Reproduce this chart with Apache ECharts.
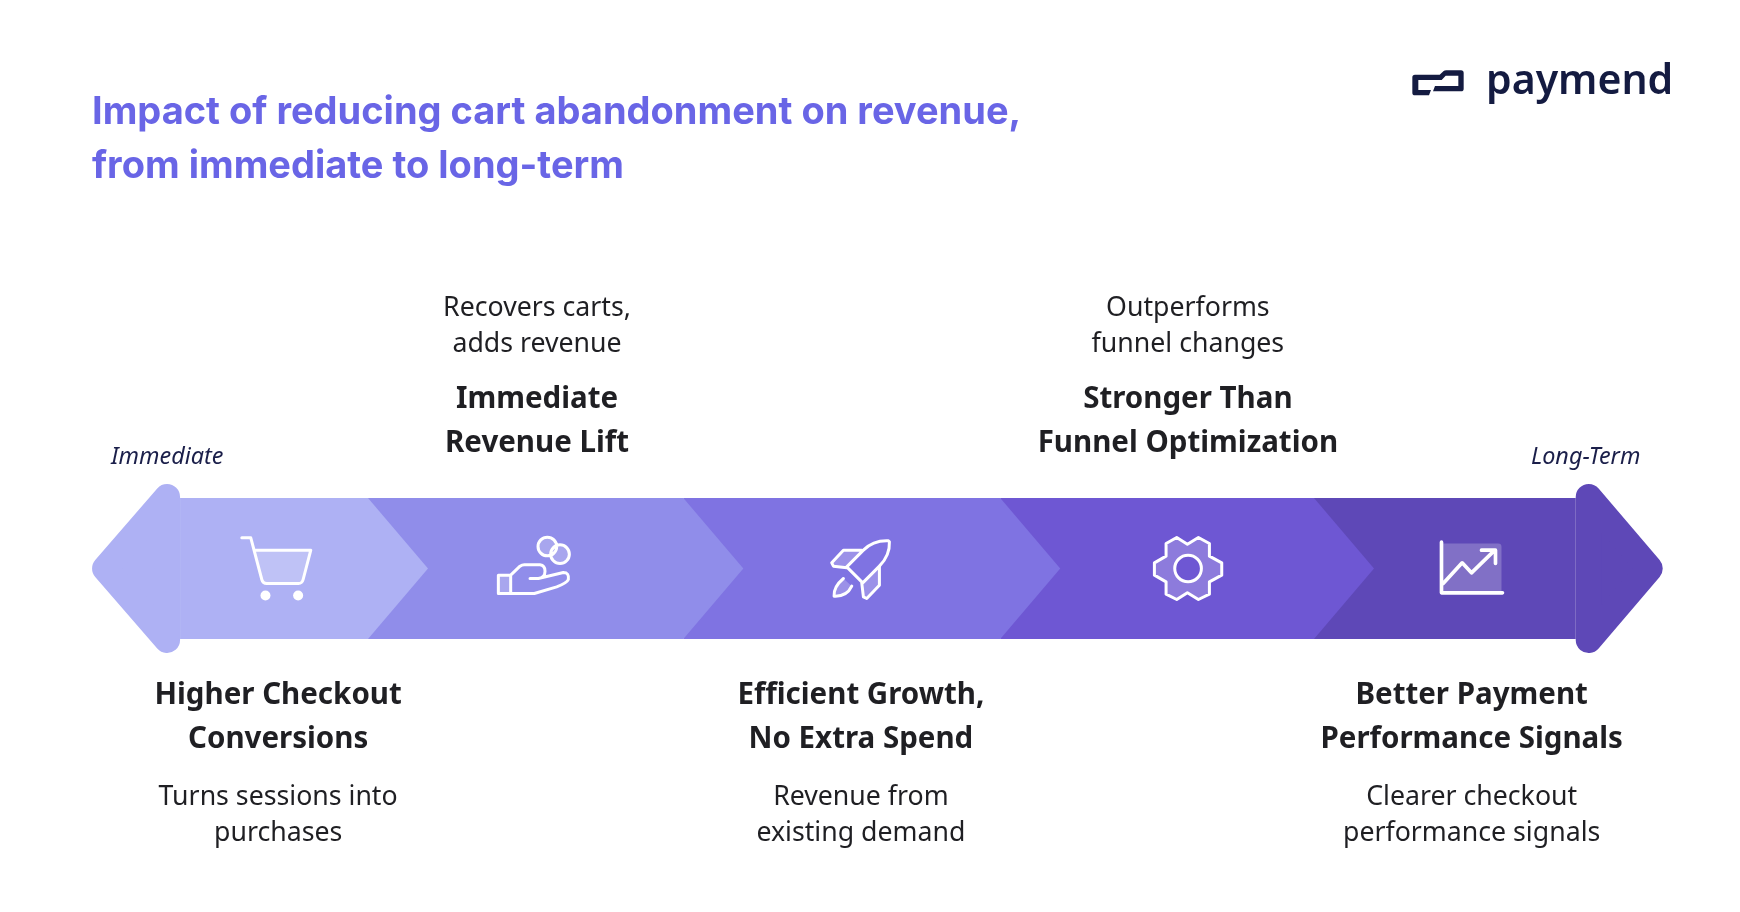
<!DOCTYPE html>
<html>
<head>
<meta charset="utf-8">
<title>Impact of reducing cart abandonment on revenue</title>
<script src="https://cdn.jsdelivr.net/npm/echarts@6/dist/echarts.min.js"></script>
<style>
    html, body { margin: 0; padding: 0; background: #fff; }
    #main { width: 1740px; height: 912px; }
</style>
</head>
<body>
<div id="main"></div>
<script>
var chartTitle = 'Impact of reducing cart abandonment on revenue,\nfrom immediate to long-term';
var brandName = 'paymend';
var startLabel = 'Immediate';
var endLabel = 'Long-Term';

// stages along the arrow, in stage units
var arrowStart = 0.404;
var stageEnds = [1, 2, 3.005, 4, 4.83];
var iconCentres = [0.715, 1.536, 2.57, 3.607, 4.51];
var textCentres = [0.715, 1.536, 2.563, 3.6, 4.5];
var stageNames = [
    ['Higher Checkout', 'Conversions'],
    ['Immediate', 'Revenue Lift'],
    ['Efficient Growth,', 'No Extra Spend'],
    ['Stronger Than', 'Funnel Optimization'],
    ['Better Payment', 'Performance Signals']
];
var stageNotes = [
    ['Turns sessions into', 'purchases'],
    ['Recovers carts,', 'adds revenue'],
    ['Revenue from', 'existing demand'],
    ['Outperforms', 'funnel changes'],
    ['Clearer checkout', 'performance signals']
];
var stageColors = ['#aeb1f4', '#908dea', '#7f73e2', '#6e57d3', '#5e48b7'];

var bodyFont = 'Noto Sans';
var textColor = '#1f1f23';

// 图标，以图标中心为原点，3倍坐标
var iconShapes = [
    {
        fill: 'M-69,-55 L98,-55 L75,33 Q72,45 61,45 L-34,45 Q-46,45 -49,33 Z',
        line: 'M-109,-92 L-82,-92 L-49,33 Q-46,45 -34,45 L61,45 Q72,45 75,33 L98,-55 L-69,-55',
        dots: [[-38, 81, 15], [60, 81, 15]]
    },
    {
        fill: 'M-116,20 L-79,20 L-79,75 L-116,75 Z M3,-66 A28,28 0 1 1 59,-66 A28,28 0 1 1 3,-66 Z M41,-43 A28,28 0 1 1 97,-43 A28,28 0 1 1 41,-43 Z',
        line: 'M3,-66 A28,28 0 1 1 59,-66 A28,28 0 1 1 3,-66 Z M41,-43 A28,28 0 1 1 97,-43 A28,28 0 1 1 41,-43 Z M-116,20 L-79,20 L-79,75 L-116,75 Z M-79,20 L-51,-7 Q-45,-11 -38,-11 L9,-11 Q24,-9 24,8 Q24,27 4,30 L-21,30 L4,30 L79,12 Q97,12 94,33 Q90,43 59,55 L-8,75 L-79,75',
        dots: []
    },
    {
        fill: 'M-4,-55 L-59,-55 L-94,-17 L-89,-7 L-49,-2 Z M49,-5 L49,50 L11,90 L1,85 L-4,43 Z M-59,30 Q-89,55 -87,83 Q-49,85 -34,53 Z',
        line: 'M76,-83 Q31,-85 1,-55 L-49,-5 L-1,43 L49,-7 Q81,-40 79,-80 Z M-4,-55 L-59,-55 L-94,-17 L-89,-7 L-49,-2 M49,-5 L49,50 L11,90 L1,85 L-4,43 M-59,30 Q-89,55 -87,83 Q-49,85 -34,53',
        dots: []
    },
    {
        fill: 'M-40,-93 L-8,-73 L25,-93 L58,-75 L58,-37 L95,-17 L95,20 L58,40 L58,77 L25,93 L-8,73 L-40,93 L-72,77 L-72,40 L-107,20 L-107,-17 L-72,-37 L-72,-75 Z M-46,0 A40,40 0 1 0 34,0 A40,40 0 1 0 -46,0 Z',
        line: 'M-40,-93 L-8,-73 L25,-93 L58,-75 L58,-37 L95,-17 L95,20 L58,40 L58,77 L25,93 L-8,73 L-40,93 L-72,77 L-72,40 L-107,20 L-107,-17 L-72,-37 L-72,-75 Z M-46,0 A40,40 0 1 0 34,0 A40,40 0 1 0 -46,0 Z',
        dots: []
    },
    {
        fill: 'M-100,-75 L70,-75 Q80,-75 80,-65 L80,70 L-100,70 Z',
        line: 'M-100,-79 L-100,73 L83,73 M-95,45 L-38,-17 L-10,13 L60,-55 M20,-55 L62,-55 L62,-15',
        dots: []
    }
];
var logoMark = 'M30,38 L104,38 L116,27 Q118,25 124,25 L168,25 Q176,25 176,33 L176,80 Q176,88 168,88 L84,88 L90,72 L160,72 L160,41 L122,41 L110,54 L40,54 L40,84 L78,84 L72,100 L30,100 Q22,100 22,92 L22,46 Q22,38 30,38 Z';

var myChart = echarts.init(document.getElementById('main'));

function renderStage(params, api) {
    var i = params.dataIndex;
    var x0 = api.coord([i === 0 ? arrowStart : stageEnds[i - 1], 1])[0];
    var x1 = api.coord([stageEnds[i], 1])[0];
    var top = api.coord([0, 1])[1];
    var bottom = api.coord([0, -1])[1];
    var mid = api.coord([0, 0])[1];
    var tip = i === stageEnds.length - 1 ? 0 : 60;
    var children = [{
        type: 'polygon',
        z2: 20 - i,
        shape: { points: [[x0, top], [x1, top], [x1 + tip, mid], [x1, bottom], [x0, bottom]] },
        style: { fill: stageColors[i] }
    }];
    // 两端的箭头，圆角用同色粗描边
    var r = 13;
    if (i === 0) {
        children.push({
            type: 'polygon',
            z2: 30,
            shape: { points: [[x0 - r, top - 1], [x0 - 75, mid], [x0 - r, bottom + 1]] },
            style: { fill: stageColors[i], stroke: stageColors[i], lineWidth: r * 2, lineJoin: 'round' }
        });
    }
    if (i === stageEnds.length - 1) {
        children.push({
            type: 'polygon',
            z2: 30,
            shape: { points: [[x1 + r, top - 1], [x1 + 74, mid], [x1 + r, bottom + 1]] },
            style: { fill: stageColors[i], stroke: stageColors[i], lineWidth: r * 2, lineJoin: 'round' }
        });
    }
    return { type: 'group', children: children };
}

function renderIcon(params, api) {
    var i = params.dataIndex;
    var c = api.coord([iconCentres[i], 0]);
    var icon = iconShapes[i];
    var children = [
        { type: 'path', z2: 40, shape: { pathData: icon.fill }, style: { fill: 'rgba(255,255,255,0.22)', stroke: null } },
        { type: 'path', z2: 41, shape: { pathData: icon.line }, style: { fill: null, stroke: '#fff', lineWidth: i === 4 ? 11 : 9, lineJoin: 'round', lineCap: 'round' } }
    ];
    icon.dots.forEach(function (d) {
        children.push({ type: 'circle', z2: 41, shape: { cx: d[0], cy: d[1], r: d[2] }, style: { fill: '#fff' } });
    });
    return { type: 'group', x: c[0], y: c[1], scaleX: 1 / 3, scaleY: 1 / 3, children: children };
}

function lineText(x, y, text, isName) {
    return {
        type: 'text',
        x: x,
        y: y,
        style: {
            text: text,
            fill: textColor,
            fontFamily: bodyFont,
            fontSize: isName ? 29.5 : 26.7,
            fontWeight: isName ? 700 : 400,
            align: 'center',
            verticalAlign: 'middle'
        }
    };
}

function renderStageText(params, api) {
    var i = params.dataIndex;
    var x = api.coord([textCentres[i], 0])[0];
    var children = [];
    if (i % 2 === 0) {
        var bottom = api.coord([0, -1])[1];
        children.push(lineText(x, bottom + 57, stageNames[i][0], true));
        children.push(lineText(x, bottom + 101, stageNames[i][1], true));
        children.push(lineText(x, bottom + 158.5, stageNotes[i][0], false));
        children.push(lineText(x, bottom + 194, stageNotes[i][1], false));
    } else {
        var top = api.coord([0, 1])[1];
        children.push(lineText(x, top - 189.5, stageNotes[i][0], false));
        children.push(lineText(x, top - 153.5, stageNotes[i][1], false));
        children.push(lineText(x, top - 98, stageNames[i][0], true));
        children.push(lineText(x, top - 54, stageNames[i][1], true));
    }
    return { type: 'group', children: children };
}

function renderLogo() {
    return {
        type: 'group',
        x: 1405,
        y: 62,
        scaleX: 1 / 3,
        scaleY: 1 / 3,
        children: [{
            type: 'path',
            shape: { pathData: logoMark },
            style: { fill: '#141b41' }
        }]
    };
}

var option = {
    backgroundColor: '#fff',
    animation: false,
    title: {
        text: chartTitle,
        left: 92,
        top: 86,
        padding: 0,
        textStyle: {
            color: '#6965e6',
            fontFamily: 'Inter',
            fontSize: 38,
            fontWeight: 700,
            lineHeight: 54
        }
    },
    grid: { left: 368, width: 946, top: 498, height: 141 },
    xAxis: { type: 'value', min: 1, max: 4, show: false },
    yAxis: { type: 'value', min: -1, max: 1, show: false },
    graphic: [
        {
            type: 'text', left: 111, top: 446,
            style: { text: startLabel, fill: '#1b1f4a', fontFamily: bodyFont, fontStyle: 'italic', fontSize: 23.4 }
        },
        {
            type: 'text', left: 1531, top: 446,
            style: { text: endLabel, fill: '#1b1f4a', fontFamily: bodyFont, fontStyle: 'italic', fontSize: 23.4 }
        },
        {
            type: 'text', left: 1486, top: 62,
            style: { text: brandName, fill: '#141b41', fontFamily: bodyFont, fontWeight: 600, fontSize: 41 }
        }
    ],
    series: [
        { type: 'custom', name: 'stages', clip: false, silent: true, renderItem: renderStage, data: stageEnds },
        { type: 'custom', name: 'icons', clip: false, silent: true, renderItem: renderIcon, data: iconCentres },
        { type: 'custom', name: 'stageText', clip: false, silent: true, renderItem: renderStageText, data: textCentres },
        { type: 'custom', name: 'logo', coordinateSystem: 'none', silent: true, renderItem: renderLogo, data: [0] }
    ]
};
myChart.setOption(option);
</script>
</body>
</html>
